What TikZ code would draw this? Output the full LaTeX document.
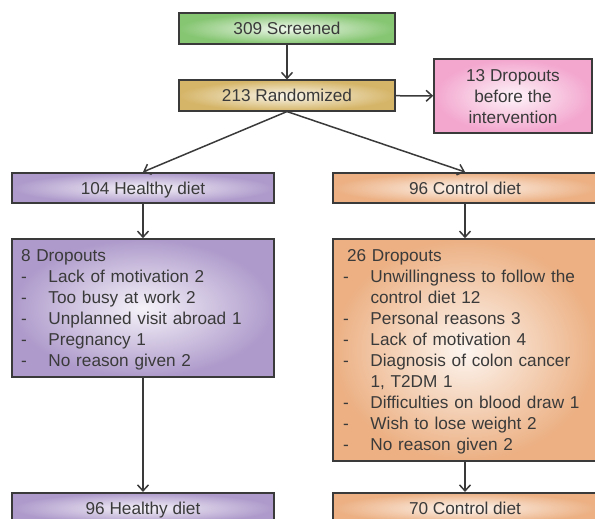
\documentclass[tikz,border=0pt]{standalone}
\usepackage{fontspec}
\setmainfont{Liberation Sans}
\usepackage{xcolor}
\usetikzlibrary{arrows.meta}

\definecolor{txtgray}{HTML}{3A3A3A}
\definecolor{screengreen}{HTML}{86C672}
\definecolor{randgold}{HTML}{D5B568}
\definecolor{droppink}{HTML}{F3A6CE}
\definecolor{healthypurple}{HTML}{AE9ACB}
\definecolor{controlorange}{HTML}{ECB083}

\newcommand{\reason}[1]{\makebox[27.5pt][l]{-}#1}
\newcommand{\reasoncont}[1]{\hspace*{27.5pt}#1}

\begin{document}
\begin{tikzpicture}[x=1pt,y=-1pt,
  box/.style={draw=txtgray, line width=1.6pt, text=txtgray, inner sep=0pt,
    font=\fontsize{17.2}{21}\selectfont},
  oneline/.style={box, text depth=0pt, minimum height=30.5pt},
  flow/.style={draw=txtgray, line width=1.5pt, -{Straight Barb[length=6pt,width=11pt]}}]
\useasboundingbox (0,0) rectangle (595,519);

% enrolment
\node[oneline, outer color=screengreen, inner color=screengreen!12!white,
  minimum width=216pt] (screen) at (287,28.5) {309 Screened};
\node[oneline, outer color=randgold, inner color=randgold!12!white,
  minimum width=216pt] (random) at (287,95.5) {213 Randomized};
\node[box, outer color=droppink, inner color=droppink!12!white, align=center,
  minimum width=158pt, minimum height=74pt] (dropbefore) at (513,96)
  {\rule{0pt}{14pt}13 Dropouts\\before the\\intervention};

% allocation
\node[oneline, outer color=healthypurple, inner color=healthypurple!12!white,
  minimum width=262pt] (healthy) at (143,188) {104 Healthy diet};
\node[oneline, outer color=controlorange, inner color=controlorange!12!white,
  minimum width=264pt] (control) at (465,188) {96 Control diet};

% dropouts
\node[box, outer color=healthypurple, inner color=healthypurple!12!white,
  align=left, text width=244pt, inner xsep=9pt, minimum height=138pt] (drophealthy) at (143,308)
  {\rule{0pt}{16pt}8 Dropouts\\
   \reason{Lack of motivation 2}\\
   \reason{Too busy at work 2}\\
   \reason{Unplanned visit abroad 1}\\
   \reason{Pregnancy 1}\\
   \reason{No reason given 2}};
\node[box, outer color=controlorange, inner color=controlorange!12!white,
  align=left, text width=244pt, inner xsep=10pt, minimum height=222pt] (dropcontrol) at (465,350)
  {\rule{0pt}{16pt}\hspace*{4pt}26 Dropouts\\
   \reason{Unwillingness to follow the}\\
   \reasoncont{control diet 12}\\
   \reason{Personal reasons 3}\\
   \reason{Lack of motivation 4}\\
   \reason{Diagnosis of colon cancer}\\
   \reasoncont{1, T2DM 1}\\
   \reason{Difficulties on blood draw 1}\\
   \reason{Wish to lose weight 2}\\
   \reason{No reason given 2}};

% analysed
\node[oneline, outer color=healthypurple, inner color=healthypurple!12!white,
  minimum width=262pt] (healthyend) at (143,508) {96 Healthy diet};
\node[oneline, outer color=controlorange, inner color=controlorange!12!white,
  minimum width=264pt] (controlend) at (465,508) {70 Control diet};

\draw[flow] (screen) -- (random);
\draw[flow] (random) -- (dropbefore);
\draw[flow] (random.south) -- (healthy.north);
\draw[flow] (random.south) -- (control.north);
\draw[flow] (healthy) -- (drophealthy);
\draw[flow] (control) -- (dropcontrol);
\draw[flow] (drophealthy) -- (healthyend);
\draw[flow] (dropcontrol) -- (controlend);
\end{tikzpicture}
\end{document}
